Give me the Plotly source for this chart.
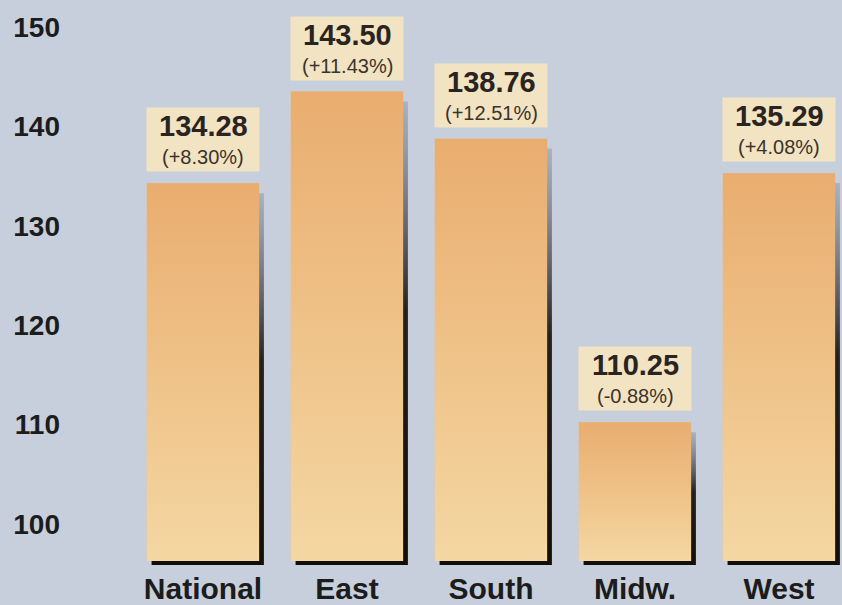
import plotly.graph_objects as go

categories = ["National", "East", "South", "Midw.", "West"]
values = [134.28, 143.50, 138.76, 110.25, 135.29]
changes = ["+8.30%", "+11.43%", "+12.51%", "-0.88%", "+4.08%"]
y_ticks = [100, 110, 120, 130, 140, 150]

BASE = 96.3
W = 0.78
SH_DX = 0.033
SH_DY = 0.4
pos = list(range(len(categories)))

FONT = "Liberation Sans, Arial, Helvetica, sans-serif"

fig = go.Figure()

# drop shadows
for i, v in zip(pos, values):
    x0, x1 = i - W / 2 + SH_DX, i + W / 2 + SH_DX
    y0, y1 = BASE - SH_DY, v - 1.0
    fig.add_trace(go.Scatter(
        x=[x0, x1, x1, x0, x0], y=[y0, y0, y1, y1, y0],
        fill="toself", mode="none",
        fillgradient=dict(type="vertical", colorscale=[
            [0, "rgba(20,14,8,1)"], [0.55, "rgba(30,24,18,0.95)"],
            [1, "rgba(90,90,100,0.25)"]]),
        hoverinfo="skip", showlegend=False))

# bars
fig.add_trace(go.Bar(
    x=pos, y=[v - BASE for v in values], base=BASE, width=W,
    marker=dict(color="#efc286", line=dict(width=0)),
    showlegend=False, hoverinfo="x+y"))

# gradient faces
for i, v in zip(pos, values):
    x0, x1 = i - W / 2, i + W / 2
    fig.add_trace(go.Scatter(
        x=[x0, x1, x1, x0, x0], y=[BASE, BASE, v, v, BASE],
        fill="toself", mode="none",
        fillgradient=dict(type="vertical", colorscale=[
            [0, "#f4d7a2"], [1, "#e9ad6f"]]),
        hoverinfo="skip", showlegend=False))

for i, v, c in zip(pos, values, changes):
    # label box
    fig.add_annotation(
        x=i, y=v, xref="x", yref="y", yanchor="bottom", yshift=11,
        showarrow=False, width=110, height=61, text="",
        bgcolor="rgba(244,228,193,0.95)")
    fig.add_annotation(
        x=i, y=v, xref="x", yref="y", yanchor="middle", yshift=57,
        showarrow=False, text=f"<b>{v:.2f}</b>",
        font=dict(family=FONT, size=29, color="#2a2420"))
    fig.add_annotation(
        x=i, y=v, xref="x", yref="y", yanchor="middle", yshift=26,
        showarrow=False, text=f"({c})",
        font=dict(family=FONT, size=20, color="#3a332c"))

fig.update_layout(
    width=842, height=605,
    margin=dict(l=61, r=0, t=0, b=35),
    paper_bgcolor="#c6cfdb", plot_bgcolor="#c6cfdb",
    barmode="overlay",
    xaxis=dict(range=[(61 - 203) / 144, (842 - 203) / 144],
               tickvals=pos, ticktext=[f"<b>{c}</b>" for c in categories],
               tickfont=dict(family=FONT, size=30, color="#1c1c1c"),
               showgrid=False, zeroline=False, showline=False, ticks=""),
    yaxis=dict(range=[95.59, 152.7], tickvals=y_ticks,
               ticktext=[f"<b>{t}</b>" for t in y_ticks],
               tickfont=dict(family=FONT, size=28, color="#1c1c1c"),
               showgrid=False, zeroline=False, showline=False, ticks=""),
)

fig.write_html(
    "out.html",
    config={"displayModeBar": False},
    post_script="document.body.style.margin='0';document.body.style.overflow='hidden';",
)
